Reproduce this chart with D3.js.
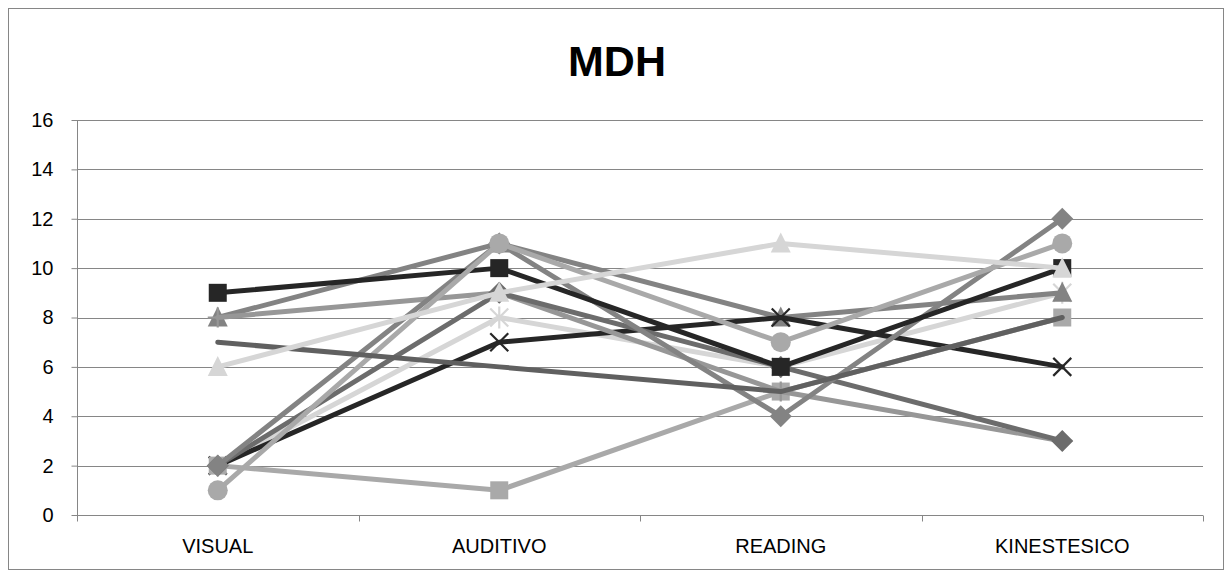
<!DOCTYPE html>
<html><head><meta charset="utf-8">
<script src="https://cdn.jsdelivr.net/npm/d3@7"></script>
<style>html,body{margin:0;padding:0;background:#fff;}</style>
</head><body><svg id="c" width="1232" height="578"></svg>
<script>
// ---- data ----
const title = "MDH";
const categories = ["VISUAL", "AUDITIVO", "READING", "KINESTESICO"];
const yTickValues = [0, 2, 4, 6, 8, 10, 12, 14, 16];
const s1 = [9, 10, 6, 10];   // black square
const s2 = [2, 7, 8, 6];     // black x
const s3 = [6, 9, 11, 10];   // light triangle
const s4 = [1, 11, 7, 11];   // circle
const s5 = [2, 11, 4, 12];   // gray diamond
const s6 = [2, 1, 5, 8];     // light square
const s7 = [7, 6, 5, 8];     // dark gray line
const s8 = [2, 8, 6, 9];     // light asterisk
const s9 = [8, 11, 8, 9];    // medium triangle
const s10 = [8, 9, 5, 3];    // plus
const s11 = [2, 9, 6, 3];    // dark diamond

// styles (separate from data), listed in drawing order
const styles = [
  {v: s8,  color: "#d6d6d6", m: "asterisk"},
  {v: s9,  color: "#838383", m: "triangle"},
  {v: s2,  color: "#262626", m: "x"},
  {v: s6,  color: "#a9a9a9", m: "square"},
  {v: s10, color: "#979797", m: "plus"},
  {v: s11, color: "#6c6c6c", m: "diamond"},
  {v: s5,  color: "#838383", m: "diamond"},
  {v: s1,  color: "#262626", m: "square"},
  {v: s4,  color: "#a9a9a9", m: "circle"},
  {v: s7,  color: "#606060", m: "none"},
  {v: s3,  color: "#d6d6d6", m: "triangle"}
];

const svg = d3.select("#c");
const plot = {l: 77, r: 1203, t: 120, b: 515};
const FONT = "Liberation Sans, Arial, sans-serif";

// chart border
svg.append("rect").attr("x", 8.5).attr("y", 8.5).attr("width", 1215).attr("height", 561)
  .attr("fill", "#fff").attr("stroke", "#868686").attr("stroke-width", 1);

svg.append("text").attr("x", 617).attr("y", 76).attr("text-anchor", "middle")
  .attr("font-family", FONT).attr("font-weight", "bold")
  .attr("font-size", 43).attr("fill", "#000").text(title);

const x = d3.scaleBand().domain(categories).range([plot.l, plot.r]);
const y = d3.scaleLinear().domain([0, 16]).range([plot.b, plot.t]);
const cx = c => x(c) + x.bandwidth() / 2;

// gridlines
svg.append("g").selectAll("line").data(yTickValues.filter(d => d > 0)).join("line")
  .attr("x1", plot.l).attr("x2", plot.r)
  .attr("y1", d => Math.round(y(d)) + 0.5).attr("y2", d => Math.round(y(d)) + 0.5)
  .attr("stroke", "#868686").attr("stroke-width", 1);

// y axis
const ya = svg.append("g").attr("transform", `translate(${plot.l + 0.5},0)`)
  .call(d3.axisLeft(y).tickValues(yTickValues).tickSize(6).tickPadding(18).tickFormat(d3.format("d")));
ya.select(".domain").attr("stroke", "#868686").attr("d", `M0,${plot.t}V${plot.b}`);
ya.selectAll(".tick line").attr("stroke", "#868686");
ya.selectAll(".tick text").attr("font-family", FONT).attr("font-size", 20).attr("fill", "#000");

// x axis
const xa = svg.append("g").attr("transform", `translate(0,${Math.round(plot.b) + 0.5})`)
  .call(d3.axisBottom(x).tickSize(0).tickPadding(23));
xa.select(".domain").attr("stroke", "#868686").attr("d", `M${plot.l},0H${plot.r}`);
xa.selectAll(".tick text").attr("font-family", FONT).attr("font-size", 20).attr("fill", "#000");
const bounds = categories.map(c => x(c)).concat([x(categories[categories.length - 1]) + x.bandwidth()]);
xa.selectAll(".bt").data(bounds).join("line").attr("class", "bt")
  .attr("x1", d => Math.round(d) + 0.5).attr("x2", d => Math.round(d) + 0.5)
  .attr("y1", 0).attr("y2", 6).attr("stroke", "#868686");

// series
const line = d3.line().x((d, i) => cx(categories[i])).y(d => y(d));
function marker(g, type, color, px, py) {
  const s = 9.5;
  if (type === "square") {
    g.append("rect").attr("x", px - s + 0.5).attr("y", py - s + 0.5).attr("width", 2 * s - 1).attr("height", 2 * s - 1).attr("fill", color);
  } else if (type === "diamond") {
    const d = 11;
    g.append("path").attr("d", `M${px},${py - d}L${px + d},${py}L${px},${py + d}L${px - d},${py}Z`).attr("fill", color);
  } else if (type === "triangle") {
    g.append("path").attr("d", `M${px},${py - 11}L${px + 10},${py + 9}L${px - 10},${py + 9}Z`).attr("fill", color);
  } else if (type === "circle") {
    g.append("circle").attr("cx", px).attr("cy", py).attr("r", 10).attr("fill", color);
  } else if (type === "x" || type === "asterisk") {
    const d = 9;
    g.append("path").attr("d", `M${px - d},${py - d}L${px + d},${py + d}M${px + d},${py - d}L${px - d},${py + d}` + (type === "asterisk" ? `M${px},${py - d - 2}V${py + d + 2}` : ""))
      .attr("stroke", color).attr("stroke-width", 2.2).attr("fill", "none");
  } else if (type === "plus") {
    const d = 10;
    g.append("path").attr("d", `M${px - d},${py}H${px + d}M${px},${py - d}V${py + d}`)
      .attr("stroke", color).attr("stroke-width", 2.2).attr("fill", "none");
  }
}
const sg = svg.append("g");
styles.forEach(st => {
  const g = sg.append("g");
  g.append("path").attr("d", line(st.v)).attr("fill", "none").attr("stroke", st.color)
    .attr("stroke-width", 5).attr("stroke-linejoin", "round").attr("stroke-linecap", "round");
  st.v.forEach((v, i) => marker(g, st.m, st.color, cx(categories[i]), y(v)));
});
</script></body></html>
